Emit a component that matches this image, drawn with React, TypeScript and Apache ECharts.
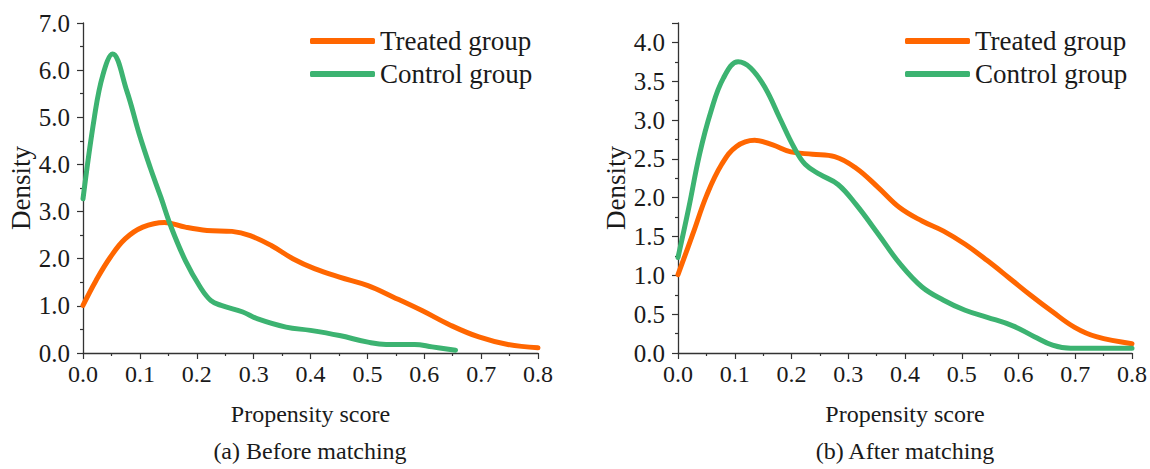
import React, { useEffect, useRef } from "react";
import * as echarts from "echarts";

// Panel (a) Before matching
const beforeTreated: [number, number][] = [
  [0, 1.01], [0.023, 1.54], [0.048, 2.03], [0.074, 2.42], [0.105, 2.67], [0.143, 2.77],
  [0.18, 2.67], [0.218, 2.6], [0.262, 2.58], [0.294, 2.49], [0.331, 2.28], [0.369, 2.0],
  [0.407, 1.79], [0.451, 1.61], [0.501, 1.43], [0.545, 1.19], [0.596, 0.9], [0.646, 0.59],
  [0.696, 0.34], [0.747, 0.18], [0.8, 0.11],
];
const beforeControl: [number, number][] = [
  [0, 3.27], [0.02, 5.0], [0.035, 5.9], [0.052, 6.34], [0.077, 5.56], [0.099, 4.64],
  [0.118, 3.94], [0.137, 3.3], [0.155, 2.67], [0.18, 1.96], [0.206, 1.4], [0.225, 1.11],
  [0.243, 1.01], [0.281, 0.87], [0.306, 0.73], [0.357, 0.55], [0.4, 0.48], [0.451, 0.37],
  [0.501, 0.23], [0.533, 0.18], [0.583, 0.18], [0.614, 0.13], [0.655, 0.06],
];

// Panel (b) After matching
const afterTreated: [number, number][] = [
  [0, 1.01], [0.026, 1.53], [0.051, 2.04], [0.077, 2.43], [0.103, 2.66], [0.135, 2.74],
  [0.167, 2.68], [0.199, 2.59], [0.237, 2.56], [0.276, 2.53], [0.314, 2.38], [0.353, 2.13],
  [0.391, 1.87], [0.43, 1.7], [0.468, 1.57], [0.506, 1.4], [0.545, 1.19], [0.583, 0.97],
  [0.622, 0.74], [0.66, 0.53], [0.699, 0.33], [0.737, 0.21], [0.8, 0.12],
];
const afterControl: [number, number][] = [
  [0, 1.23], [0.019, 1.87], [0.038, 2.56], [0.058, 3.11], [0.08, 3.54], [0.106, 3.75],
  [0.128, 3.67], [0.154, 3.41], [0.179, 3.03], [0.205, 2.64], [0.224, 2.43], [0.25, 2.3],
  [0.282, 2.17], [0.314, 1.91], [0.353, 1.53], [0.391, 1.15], [0.43, 0.85], [0.468, 0.68],
  [0.506, 0.55], [0.545, 0.46], [0.59, 0.35], [0.628, 0.21], [0.66, 0.1], [0.692, 0.06],
  [0.8, 0.06],
];

const seriesNames = ["Treated group", "Control group"];
const colors = ["#FF6600", "#3CB371"];
const xAxisTitle = "Propensity score";
const yAxisTitle = "Density";
const captions = ["(a) Before matching", "(b) After matching"];

const FONT = '"Liberation Serif", "Times New Roman", serif';
const TEXT = "#1a1a1a";
const AXIS = "#333333";

function xAxisCfg(gridIndex: number) {
  return {
    type: "value" as const,
    gridIndex,
    min: 0,
    max: 0.8,
    interval: 0.1,
    name: xAxisTitle,
    nameLocation: "middle" as const,
    nameGap: 49,
    nameTextStyle: { fontFamily: FONT, fontSize: 24, color: TEXT },
    axisLine: { show: true, onZero: false, lineStyle: { color: AXIS, width: 1.3 } },
    axisTick: { show: true, inside: false, length: 6, lineStyle: { color: AXIS, width: 1.2 } },
    minorTick: { show: true, splitNumber: 2, length: 3, lineStyle: { color: AXIS, width: 1.2 } },
    splitLine: { show: false },
    axisLabel: {
      fontFamily: FONT,
      fontSize: 24,
      color: TEXT,
      margin: 9,
      formatter: (v: number) => v.toFixed(1),
    },
  };
}

function yAxisCfg(gridIndex: number, max: number, interval: number, nameGap: number) {
  return {
    type: "value" as const,
    gridIndex,
    min: 0,
    max,
    interval,
    name: yAxisTitle,
    nameLocation: "middle" as const,
    nameRotate: 90,
    nameGap,
    nameTextStyle: { fontFamily: FONT, fontSize: 27, color: TEXT },
    axisLine: { show: true, onZero: false, lineStyle: { color: AXIS, width: 1.3 } },
    axisTick: { show: true, inside: false, length: 6, lineStyle: { color: AXIS, width: 1.2 } },
    minorTick: { show: true, splitNumber: 2, length: 3, lineStyle: { color: AXIS, width: 1.2 } },
    splitLine: { show: false },
    axisLabel: {
      fontFamily: FONT,
      fontSize: 25,
      color: TEXT,
      margin: 13,
      showMaxLabel: max % interval === 0,
      formatter: (v: number) => v.toFixed(1),
    },
  };
}

function lineSeries(name: string, color: string, data: [number, number][], idx: number) {
  return {
    type: "line" as const,
    name,
    xAxisIndex: idx,
    yAxisIndex: idx,
    data,
    smooth: 0.4,
    showSymbol: false,
    symbol: "none",
    lineStyle: { color, width: 5, cap: "round" as const, join: "round" as const },
    itemStyle: { color },
    z: name === seriesNames[1] ? 3 : 2,
  };
}

function legendCfg(left: number) {
  return {
    left,
    top: 21,
    orient: "vertical" as const,
    icon: "roundRect",
    itemWidth: 65,
    itemHeight: 6,
    itemGap: 3,
    selectedMode: false,
    data: seriesNames,
    textStyle: { fontFamily: FONT, fontSize: 27, color: TEXT, lineHeight: 30 },
  };
}

export default function App() {
  const ref = useRef<HTMLDivElement>(null);
  useEffect(() => {
    if (!ref.current) return;
    const chart = echarts.init(ref.current, null, { renderer: "svg" });
    chart.setOption({
      animation: false,
      backgroundColor: "#ffffff",
      grid: [
        { left: 83, right: 612, top: 23, bottom: 116 },
        { left: 678, right: 18, top: 23, bottom: 116 },
      ],
      xAxis: [xAxisCfg(0), xAxisCfg(1)],
      yAxis: [yAxisCfg(0, 7, 1, 48), yAxisCfg(1, 4.25, 0.5, 49)],
      legend: [legendCfg(305), legendCfg(900)],
      series: [
        lineSeries(seriesNames[0], colors[0], beforeTreated, 0),
        lineSeries(seriesNames[1], colors[1], beforeControl, 0),
        lineSeries(seriesNames[0], colors[0], afterTreated, 1),
        lineSeries(seriesNames[1], colors[1], afterControl, 1),
      ],
      graphic: [
        {
          type: "text",
          x: 310,
          y: 451,
          style: { text: captions[0], fontFamily: FONT, fontSize: 24, fill: TEXT, align: "center", verticalAlign: "middle" },
        },
        {
          type: "text",
          x: 905,
          y: 451,
          style: { text: captions[1], fontFamily: FONT, fontSize: 24, fill: TEXT, align: "center", verticalAlign: "middle" },
        },
      ],
    });
    return () => chart.dispose();
  }, []);
  return (
    <div
      ref={ref}
      style={{ position: "fixed", left: 0, top: 0, width: 1150, height: 469, background: "#fff" }}
    />
  );
}
